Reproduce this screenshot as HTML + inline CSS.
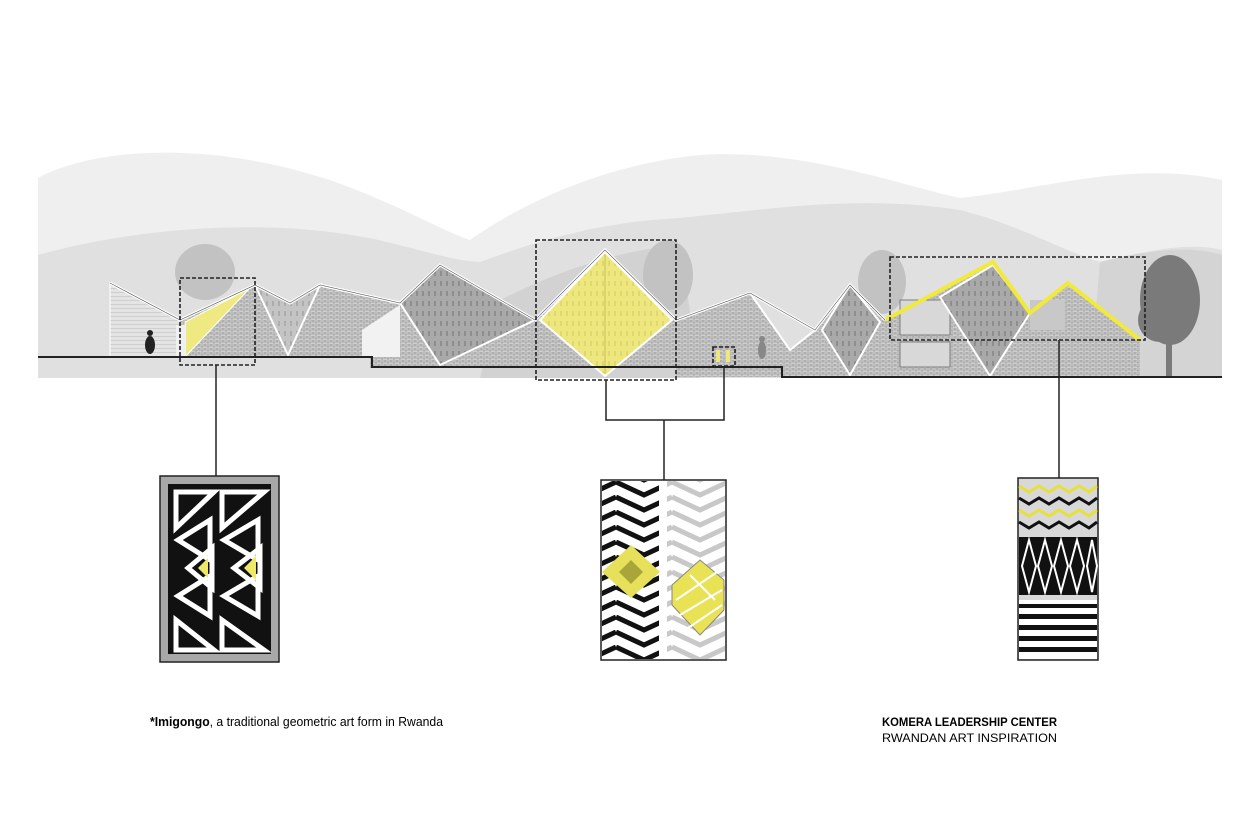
<!DOCTYPE html>
<html><head><meta charset="utf-8"><style>
html,body{margin:0;padding:0;background:#fff;}
svg{display:block;}
text{font-family:"Liberation Sans",sans-serif;}
</style></head><body>
<svg width="1260" height="838" viewBox="0 0 1260 838" xmlns="http://www.w3.org/2000/svg">
<defs>
<pattern id="brick" width="6" height="4" patternUnits="userSpaceOnUse">
<rect width="6" height="4" fill="#cfcfcf"/><path d="M0 0H6M0 2H6M1 0V2M4 2V4" stroke="#8a8a8a" stroke-width="0.6"/>
</pattern>
<pattern id="hlines" width="4" height="4" patternUnits="userSpaceOnUse">
<rect width="4" height="4" fill="#e4e4e4"/><path d="M0 0H4" stroke="#999" stroke-width="0.6"/>
</pattern>
<pattern id="dash" width="6" height="10" patternUnits="userSpaceOnUse">
<rect width="6" height="10" fill="#a9a9a9"/><path d="M3 1V6" stroke="#666" stroke-width="0.8"/>
</pattern>
<pattern id="dashL" width="6" height="10" patternUnits="userSpaceOnUse">
<rect width="6" height="10" fill="#c4c4c4"/><path d="M3 1V6" stroke="#888" stroke-width="0.8"/>
</pattern>
<pattern id="ydash" width="6" height="10" patternUnits="userSpaceOnUse">
<rect width="6" height="10" fill="#ede77e"/><path d="M3 1V6" stroke="#c9c25a" stroke-width="0.8"/>
</pattern>
<pattern id="chevB" width="56" height="15" patternUnits="userSpaceOnUse">
<rect width="56" height="15" fill="#fff"/><polyline points="0,2 28,15 56,2" fill="none" stroke="#111" stroke-width="5"/><polyline points="0,-13 28,0 56,-13" fill="none" stroke="#111" stroke-width="5"/>
</pattern>
<pattern id="chevG" width="56" height="15" patternUnits="userSpaceOnUse">
<rect width="56" height="15" fill="#fff"/><polyline points="0,2 28,15 56,2" fill="none" stroke="#c8c8c8" stroke-width="5"/><polyline points="0,-13 28,0 56,-13" fill="none" stroke="#c8c8c8" stroke-width="5"/>
</pattern>
</defs>

<!-- hills -->
<path d="M38 178 C90 150 200 138 330 180 C400 205 440 230 470 240 C520 205 600 165 700 155 C800 148 900 185 960 198 C1040 190 1130 160 1222 180 L1222 378 L38 378 Z" fill="#efefef"/>
<path d="M38 255 C120 232 230 220 330 232 C400 240 440 260 480 262 C540 240 600 222 680 218 C780 208 860 195 960 210 C1020 225 1060 250 1100 262 C1150 250 1190 242 1222 250 L1222 378 L38 378 Z" fill="#e0e0e0"/>
<path d="M500 300 C560 270 620 250 680 245 L700 378 L480 378 Z" fill="#d2d2d2"/>
<path d="M1100 262 C1150 250 1190 245 1222 255 L1222 378 L1090 378 Z" fill="#d4d4d4"/>

<!-- trees -->
<g fill="#c2c2c2">
<ellipse cx="205" cy="272" rx="30" ry="28"/><ellipse cx="668" cy="275" rx="25" ry="35"/><ellipse cx="882" cy="282" rx="24" ry="32"/>
</g>
<g fill="#7a7a7a">
<ellipse cx="1170" cy="300" rx="30" ry="45"/><ellipse cx="1160" cy="320" rx="22" ry="22"/>
<rect x="1166" y="320" width="6" height="57"/>
</g>

<!-- building -->
<polygon points="110,283 180,320 180,357 110,357" fill="url(#hlines)" stroke="#fff" stroke-width="1"/>
<polygon points="180,320 255,285 255,357 180,357" fill="url(#brick)"/>
<polygon points="185,357 250,288 185,322" fill="#efe982" stroke="#fff" stroke-width="1"/>
<rect x="176" y="325" width="10" height="32" fill="#f0f0f0"/>
<polygon points="255,285 290,303 320,285 400,305 400,357 255,357" fill="url(#brick)"/>
<polygon points="255,285 288,355 320,285 290,303" fill="url(#dashL)" stroke="#fff" stroke-width="2"/>
<polygon points="370,345 430,345 430,368 370,368" fill="url(#brick)"/>
<polygon points="362,330 400,305 400,357 362,357" fill="#f2f2f2"/>
<polygon points="400,303 440,265 535,320 535,368 400,368" fill="url(#brick)"/>
<polygon points="440,265 400,303 440,365 535,320" fill="url(#dash)" stroke="#fff" stroke-width="2"/>
<polygon points="535,320 605,250 676,320 676,368 535,368" fill="url(#brick)"/>
<polygon points="605,252 540,320 605,376 672,320" fill="url(#ydash)" stroke="#fff" stroke-width="2"/>
<line x1="605" y1="254" x2="605" y2="374" stroke="#c9c25a" stroke-width="1"/>
<polygon points="676,320 750,293 815,330 815,377 676,377" fill="url(#brick)"/>
<polygon points="750,293 790,350 815,330" fill="#e0e0e0" stroke="#fff" stroke-width="2"/>
<polygon points="815,330 850,285 885,320 885,377 815,377" fill="url(#brick)"/>
<polygon points="850,285 822,330 850,375 880,322" fill="url(#dash)" stroke="#fff" stroke-width="2"/>
<polygon points="885,320 993,262 1030,313 1068,283 1140,340 1140,377 885,377" fill="url(#brick)"/>
<rect x="900" y="300" width="50" height="35" fill="#d8d8d8" stroke="#666" stroke-width="0.8"/>
<rect x="900" y="342" width="50" height="25" fill="#d8d8d8" stroke="#666" stroke-width="0.8"/>
<polygon points="993,265 940,297 990,376 1030,313" fill="url(#dash)" stroke="#fff" stroke-width="2"/>
<rect x="1030" y="300" width="35" height="30" fill="#c8c8c8"/>
<polyline points="885,320 993,262 1030,313 1068,283 1140,340" fill="none" stroke="#f2ea3a" stroke-width="4"/>
<polyline points="110,283 180,320 255,285 290,303 320,285 400,303 440,265 535,320 605,250 676,320 750,293 815,330 850,285 885,320" fill="none" stroke="#fff" stroke-width="3"/>
<polyline points="110,283 180,320 255,285 290,303 320,285 400,303 440,265 535,320 605,250 676,320 750,293 815,330 850,285 885,320" fill="none" stroke="#555" stroke-width="0.6"/>

<!-- people -->
<g fill="#222"><ellipse cx="150" cy="345" rx="5" ry="9"/><circle cx="150" cy="333" r="3"/>
<ellipse cx="762" cy="350" rx="4" ry="9" fill="#888"/><circle cx="762" cy="339" r="3" fill="#888"/></g>
<rect x="716" y="350" width="4" height="12" fill="#ede77e"/><rect x="726" y="350" width="4" height="12" fill="#ede77e"/>

<!-- ground -->
<path d="M38 357 H372 V367 H782 V377 H1222" fill="none" stroke="#222" stroke-width="2"/>

<!-- dashed boxes -->
<g fill="none" stroke="#222" stroke-width="1.6" stroke-dasharray="4,2">
<rect x="180" y="278" width="75" height="87"/>
<rect x="536" y="240" width="140" height="140"/>
<rect x="713" y="347" width="22" height="19"/>
<rect x="890" y="257" width="255" height="83"/>
</g>
<g stroke="#222" stroke-width="1.5" fill="none">
<line x1="216" y1="365" x2="216" y2="476"/>
<polyline points="606,380 606,420 724,420 724,366"/>
<line x1="664" y1="420" x2="664" y2="480"/>
<line x1="1059" y1="340" x2="1059" y2="478"/>
</g>

<!-- panel 1 -->
<rect x="160" y="476" width="119" height="186" fill="#a8a8a8" stroke="#222" stroke-width="1.5"/>
<rect x="168" y="484" width="103" height="170" fill="#111"/>
<g fill="none" stroke="#fff" stroke-width="5" stroke-linejoin="miter">
<polygon points="176,492 214,492 176,528"/><polygon points="222,492 264,492 222,528"/>
<polygon points="176,620 214,650 176,650"/><polygon points="222,620 264,650 222,650"/>
<polygon points="178,540 210,520 210,560"/><polygon points="224,540 258,520 258,560"/>
<polygon points="178,596 210,576 210,616"/><polygon points="224,596 258,576 258,616"/>
<polygon points="188,568 212,548 212,588"/><polygon points="234,568 260,548 260,588"/>
</g>
<polygon points="198,568 208,558 208,578" fill="#efe96a"/><polygon points="244,568 256,556 256,580" fill="#efe96a"/>

<!-- panel 2 -->
<rect x="601" y="480" width="125" height="180" fill="#fff"/>
<rect x="602" y="481" width="57" height="178" fill="url(#chevB)"/>
<rect x="667" y="481" width="58" height="178" fill="url(#chevG)"/>
<polygon points="631,545 660,572 631,598 602,572" fill="#e6e05a"/>
<polygon points="631,560 643,572 631,584 619,572" fill="#aaa53a"/>
<g fill="#e8e254" stroke="#888" stroke-width="1">
<polygon points="700,560 724,580 724,610 700,635 672,605 672,585"/>
</g>
<g stroke="#fff" stroke-width="2"><line x1="676" y1="600" x2="720" y2="570"/><line x1="680" y1="615" x2="722" y2="590"/><line x1="688" y1="628" x2="722" y2="605"/><line x1="690" y1="575" x2="715" y2="600"/></g>
<rect x="601" y="480" width="125" height="180" fill="none" stroke="#222" stroke-width="1.5"/>

<!-- panel 3 -->
<rect x="1018" y="478" width="80" height="182" fill="#d8d8d8" stroke="#222" stroke-width="1.5"/>
<g fill="none" stroke-width="3">
<polyline points="1019,486 1029,492 1039,486 1049,492 1059,486 1069,492 1079,486 1089,492 1097,486" stroke="#e6e03a"/>
<polyline points="1019,498 1029,504 1039,498 1049,504 1059,498 1069,504 1079,498 1089,504 1097,498" stroke="#111"/>
<polyline points="1019,510 1029,516 1039,510 1049,516 1059,510 1069,516 1079,510 1089,516 1097,510" stroke="#e6e03a"/>
<polyline points="1019,522 1029,528 1039,522 1049,528 1059,522 1069,528 1079,522 1089,528 1097,522" stroke="#111"/>
</g>
<rect x="1019" y="537" width="78" height="58" fill="#111"/>
<g fill="none" stroke="#fff" stroke-width="2">
<polygon points="1029,540 1036,566 1029,592 1022,566"/><polygon points="1045,540 1052,566 1045,592 1038,566"/><polygon points="1061,540 1068,566 1061,592 1054,566"/><polygon points="1077,540 1084,566 1077,592 1070,566"/><polygon points="1092,540 1097,566 1092,592 1087,566"/>
</g>
<rect x="1019" y="600" width="78" height="59" fill="#fff"/>
<g fill="#111">
<path d="M1019 604 H1097 V608 H1019Z M1019 614 H1097 V619 H1019Z M1019 625 H1097 V630 H1019Z M1019 636 H1097 V641 H1019Z M1019 647 H1097 V652 H1019Z"/>
</g>

<!-- captions -->
<text x="150" y="726" font-size="13" textLength="293" lengthAdjust="spacingAndGlyphs"><tspan font-weight="bold">*Imigongo</tspan>, a traditional geometric art form in Rwanda</text>
<text x="882" y="726" font-size="12" font-weight="bold" textLength="175" lengthAdjust="spacingAndGlyphs">KOMERA LEADERSHIP CENTER</text>
<text x="882" y="742" font-size="12" textLength="175" lengthAdjust="spacingAndGlyphs">RWANDAN ART INSPIRATION</text>
</svg>
</body></html>
